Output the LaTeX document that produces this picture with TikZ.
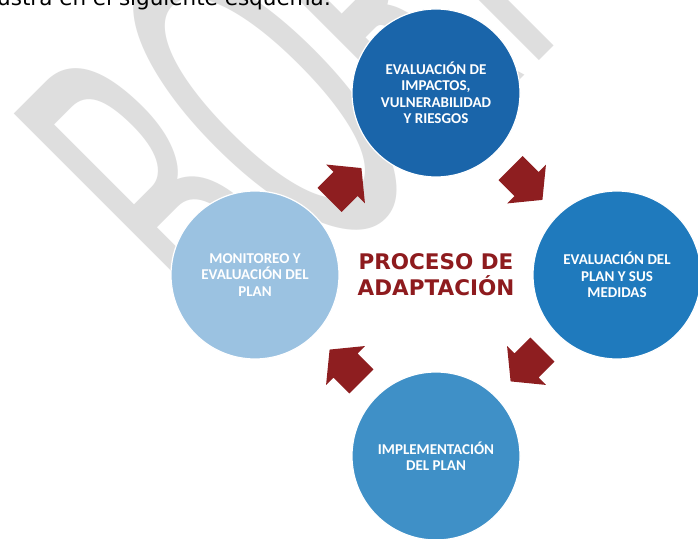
\documentclass[tikz,border=0pt]{standalone}
\usepackage{fontspec}
\setmainfont{Carlito}
\newfontfamily\verdanalike{DejaVu Sans}
\usetikzlibrary{calc}
\definecolor{wmgray}{HTML}{DEDEDE}
\definecolor{ctop}{HTML}{1A65AA}
\definecolor{cright}{HTML}{1F7ABD}
\definecolor{cbottom}{HTML}{3F90C7}
\definecolor{cleft}{HTML}{9BC2E1}
\definecolor{arrowred}{HTML}{8E1E20}
\definecolor{titlered}{HTML}{8E1B1E}
\tikzset{
  stage/.style={circle, minimum size=168pt, inner sep=0pt, draw=white, line width=1.2pt,
    text=white, align=center, font=\bfseries\fontsize{15}{16.5}\selectfont},
  blockarrow/.pic={\fill[arrowred] (-22.5pt,-17pt) -- (0pt,-17pt) -- (0pt,-27.5pt) -- (22.5pt,0pt)
      -- (0pt,27.5pt) -- (0pt,17pt) -- (-22.5pt,17pt) -- cycle;},
  watermark/.style={text=wmgray, inner sep=0pt, anchor=base west, font=\fontsize{520}{520}\selectfont},
  intro/.style={anchor=base west, inner sep=0pt, font=\verdanalike\fontsize{21.5}{24}\selectfont},
  title/.style={text=titlered, align=center, inner sep=0pt,
    font=\verdanalike\bfseries\fontsize{21.5}{26}\selectfont}
}
\begin{document}
\begin{tikzpicture}[x=1pt,y=1pt]
\useasboundingbox (0,0) rectangle (698,538);
\clip (0,0) rectangle (698,538);
\fill[white] (0,0) rectangle (698,538);
\node[watermark, rotate=45, xscale=0.45] (wm) at (238,176) {BORRADOR};
\node[intro] (introtext) at (-3,532) {ustra en el siguiente esquema:};
\node[stage, fill=ctop] (top) at (436,445) {EVALUACIÓN DE\\IMPACTOS,\\VULNERABILIDAD\\Y RIESGOS};
\node[stage, fill=cright] (right) at (617,263) {EVALUACIÓN DEL\\PLAN Y SUS\\MEDIDAS};
\node[stage, fill=cbottom] (bottom) at (436,82) {IMPLEMENTACIÓN\\DEL PLAN};
\node[stage, fill=cleft] (left) at (255,263) {MONITOREO Y\\EVALUACIÓN DEL\\PLAN};
\node[title] (center) at (436,263) {PROCESO DE\\ADAPTACIÓN};
\path ($(left)!0.5!(top)$) pic[rotate=45] {blockarrow};
\path ($(top)!0.5!(right)$) pic[rotate=-45] {blockarrow};
\path ($(right)!0.5!(bottom)$) pic[rotate=-135] {blockarrow};
\path ($(bottom)!0.5!(left)$) pic[rotate=135] {blockarrow};
\end{tikzpicture}
\end{document}
